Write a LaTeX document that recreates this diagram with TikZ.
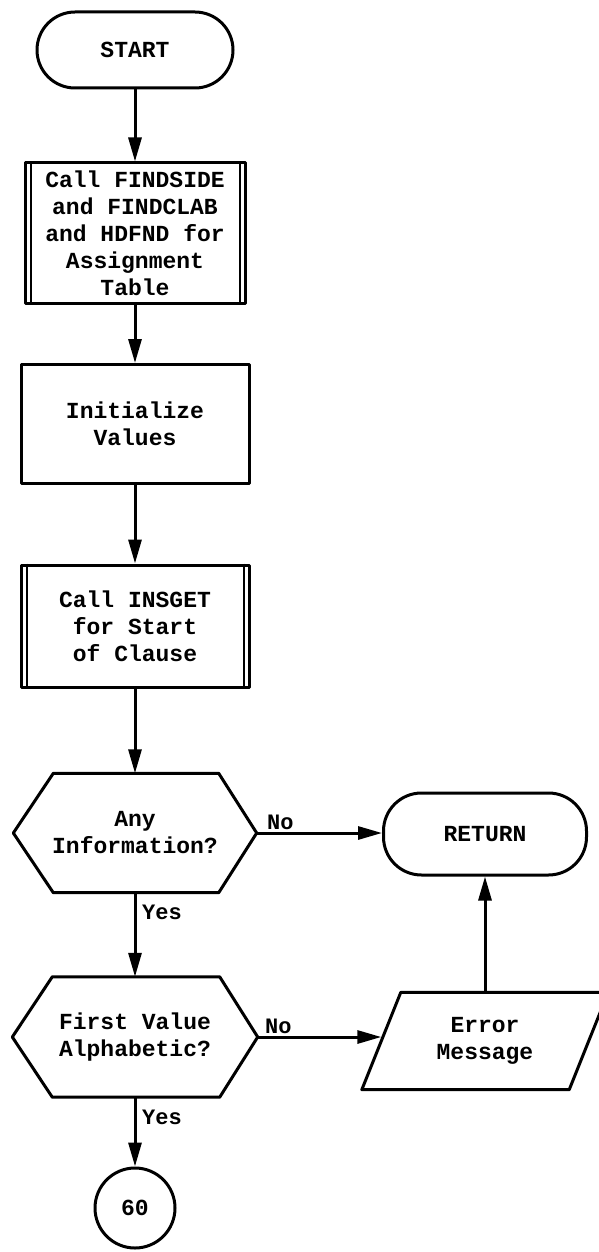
\documentclass[tikz,border=0pt]{standalone}
\usepackage{fontspec}
\setmonofont{Liberation Mono}
\usetikzlibrary{arrows.meta,calc}
\begin{document}
\begin{tikzpicture}[x=1pt,y=-1pt,
  txt/.style={font=\ttfamily\bfseries\fontsize{23}{27}\selectfont, align=center, inner sep=0pt},
  lbl/.style={font=\ttfamily\bfseries\fontsize{22}{26}\selectfont, inner sep=0pt},
  line/.style={line width=3pt, line join=round},
  arr/.style={line, -{Triangle[length=24pt,width=13pt]}},
  termbox/.style={txt, draw, line, rounded corners=38pt},
  procbox/.style={txt, draw, line, rectangle},
  decbox/.style={txt, minimum width=243pt, minimum height=119pt},
  iobox/.style={txt, minimum width=207pt, minimum height=97pt},
  conn/.style={txt, draw, line, circle, minimum size=80pt}
]
\fill[white] (0,0) rectangle (598,1252);
\useasboundingbox (0,0) rectangle (598,1252);

% main column
\node[termbox, minimum width=196pt, minimum height=76pt] (start) at (135,50) {START};
\node[procbox, minimum width=220pt, minimum height=140pt] (find) at (135,233)
  {Call FINDSIDE\\and FINDCLAB\\and HDFND for\\Assignment\\Table};
\node[procbox, minimum width=228pt, minimum height=119pt] (init) at (135,424)
  {Initialize\\Values};
\node[procbox, minimum width=228pt, minimum height=122pt] (insget) at (135,626)
  {Call INSGET\\for Start\\of Clause};
\node[decbox] (info) at (135,833) {Any\\Information?};
\node[decbox, minimum width=245pt, minimum height=120pt] (alpha) at (135,1037)
  {First Value\\Alphabetic?};
\node[conn] (c60) at (135,1208) {60};

% right column
\node[termbox, minimum width=203pt, minimum height=82pt] (ret) at (485,834) {RETURN};
\node[iobox] (err) at (485,1041) {Error\\Message};

% double side bars of the predefined-process boxes
\foreach \n in {find,insget}{
  \draw[line width=2pt] ([xshift=7pt]\n.north west) -- ([xshift=7pt]\n.south west);
  \draw[line width=2pt] ([xshift=-7pt]\n.north east) -- ([xshift=-7pt]\n.south east);
}

% decision hexagons
\foreach \n in {info,alpha}{
  \draw[line] (\n.west) -- ([xshift=40pt]\n.north west) -- ([xshift=-38pt]\n.north east)
    -- (\n.east) -- ([xshift=-38pt]\n.south east) -- ([xshift=40pt]\n.south west) -- cycle;
}

% input/output parallelogram
\draw[line] ([xshift=-19.5pt]err.south west) -- ([xshift=19.5pt]err.north west)
  -- ([xshift=19.5pt]err.north east) -- ([xshift=-19.5pt]err.south east) -- cycle;

% connectors
\draw[arr] (start) -- (find);
\draw[arr] (find) -- (init);
\draw[arr] (init) -- (insget);
\draw[arr] (insget) -- (info.north);
\draw[arr] (info.south) -- (alpha.north);
\draw[arr] (alpha.south) -- (c60);
\draw[arr] (info.east) -- (info.east -| ret.west);
\draw[arr] (alpha.east) -- (alpha.east -| err.west);
\draw[arr] (err.north) -- (ret.south);

% branch labels
\node[lbl, anchor=west] at (267,822) {No};
\node[lbl, anchor=west] at (265,1026) {No};
\node[lbl, anchor=west] at (142,912) {Yes};
\node[lbl, anchor=west] at (142,1117) {Yes};
\end{tikzpicture}
\end{document}
